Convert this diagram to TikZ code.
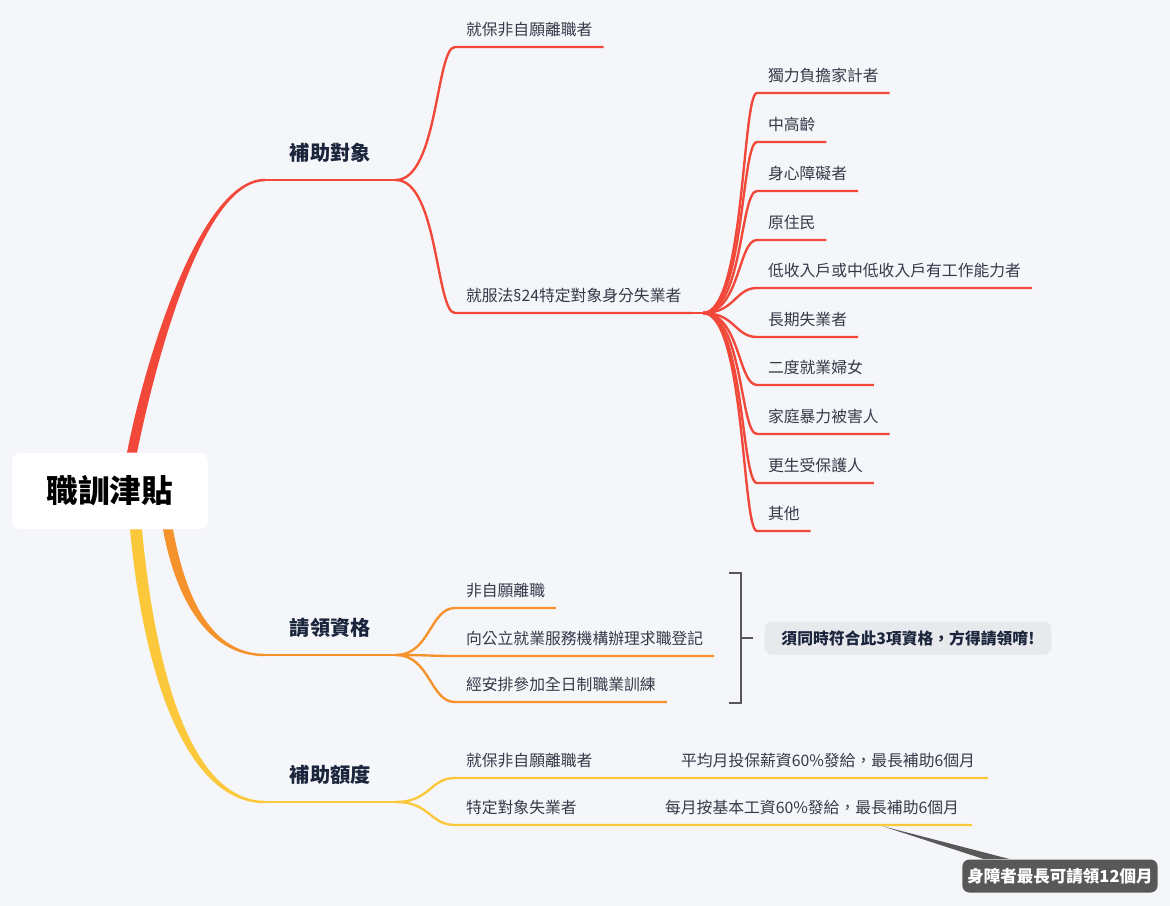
\documentclass[tikz,border=0pt]{standalone}
\usepackage{fontspec}
\setmainfont{Noto Sans CJK TC}
\newfontfamily\latinfont{Noto Sans}
\usepackage{xcolor}
\usepackage{tikz}

\definecolor{bgcol}{RGB}{245,246,250}
\definecolor{redb}{RGB}{242,72,58}
\definecolor{orangeb}{RGB}{246,146,44}
\definecolor{yellowb}{RGB}{251,200,60}
\definecolor{inkcol}{RGB}{52,58,72}
\definecolor{titlecol}{RGB}{27,37,60}
\definecolor{notecol}{RGB}{232,233,237}
\definecolor{notedark}{RGB}{88,88,88}

\begin{document}
\begin{tikzpicture}[x=0.02cm, y=-0.02cm,
  root/.style={fill=white, rounded corners=0.16cm, minimum width=3.92cm, minimum height=1.52cm, font=\fontsize{18}{20}\selectfont\bfseries},
  topic/.style={anchor=south west, outer sep=0pt, inner xsep=0.5cm, inner ysep=0.29cm, text height=0.35cm, text depth=0.1cm, text=titlecol, font=\fontsize{11.5}{13}\selectfont\bfseries},
  leaf/.style={anchor=south west, outer sep=0pt, inner xsep=0.22cm, inner ysep=0.14cm, text height=0.3cm, text depth=0.1cm, text=inkcol, font=\fontsize{9}{11}\selectfont},
  rleaf/.style={leaf, anchor=south east, inner xsep=0.26cm},
  redline/.style={draw=redb, line width=1.35pt},
  orangeline/.style={draw=orangeb, line width=1.35pt},
  yellowline/.style={draw=yellowb, line width=1.35pt},
  note/.style={fill=notecol, rounded corners=0.14cm, minimum width=5.74cm, minimum height=0.66cm, text=titlecol, font=\fontsize{9}{11}\selectfont\bfseries},
  darknote/.style={fill=notedark, rounded corners=0.14cm, inner xsep=0.1cm, minimum width=3.9cm, minimum height=0.66cm, text=white, font=\fontsize{9.4}{11}\selectfont\bfseries}]

\fill[bgcol] (0,0) rectangle (1170,906);

% root and main topics
\node[root] (root) at (110,491) {職訓津貼};
\node[topic] (target) at (265,180) {補助對象};
\node[topic] (qualify) at (265,655) {請領資格};
\node[topic] (amount) at (265,802) {補助額度};

\fill[redb] ([xshift=0.34cm]root.north) .. controls (145,360) and (200,179) .. ([yshift=0.7pt]target.south west)
  -- ([yshift=-0.7pt]target.south west) .. controls (203,181) and (156,360) .. ([xshift=0.54cm]root.north) -- cycle;
\fill[orangeb] ([xshift=1.06cm]root.south) .. controls (176,600) and (208,656) .. ([yshift=-0.7pt]qualify.south west)
  -- ([yshift=0.7pt]qualify.south west) .. controls (212,654) and (186,600) .. ([xshift=1.26cm]root.south) -- cycle;
\fill[yellowb] ([xshift=0.4cm]root.south) .. controls (144,680) and (188,803) .. ([yshift=-0.7pt]amount.south west)
  -- ([yshift=0.7pt]amount.south west) .. controls (194,801) and (156,680) .. ([xshift=0.64cm]root.south) -- cycle;

\draw[redline] (target.south west) -- (target.south east);
\draw[orangeline] (qualify.south west) -- (qualify.south east);
\draw[yellowline] (amount.south west) -- (amount.south east);

% 補助對象
\node[leaf] (layoff) at (455,47) {就保非自願離職者};
\node[leaf] (special) at (455,313) {就服法{\latinfont §}24特定對象身分失業者};
\draw[redline] (target.south east) .. controls (438,180) and (436,47) .. (layoff.south west) -- (layoff.south east);
\draw[redline] (target.south east) .. controls (438,180) and (436,313) .. (special.south west) -- (special.south east);

\coordinate (hub) at (703,313);
\node[leaf] (breadwin) at (757,93) {獨力負擔家計者};
\node[leaf] (senior) at (757,142) {中高齡};
\node[leaf] (disabled) at (757,191) {身心障礙者};
\node[leaf] (native) at (757,240) {原住民};
\node[leaf] (lowinc) at (757,288) {低收入戶或中低收入戶有工作能力者};
\node[leaf] (longterm) at (757,337) {長期失業者};
\node[leaf] (women) at (757,385) {二度就業婦女};
\node[leaf] (violence) at (757,434) {家庭暴力被害人};
\node[leaf] (parolee) at (757,483) {更生受保護人};
\node[leaf] (others) at (757,531) {其他};

\draw[redline] (special.south east) -- (hub);
\draw[redline] (hub) .. controls (745,313) and (742,93) .. (breadwin.south west) -- (breadwin.south east);
\draw[redline] (hub) .. controls (744,313) and (741,142) .. (senior.south west) -- (senior.south east);
\draw[redline] (hub) .. controls (743,313) and (740,191) .. (disabled.south west) -- (disabled.south east);
\draw[redline] (hub) .. controls (740,313) and (738,240) .. (native.south west) -- (native.south east);
\draw[redline] (hub) .. controls (735,313) and (735,288) .. (lowinc.south west) -- (lowinc.south east);
\draw[redline] (hub) .. controls (735,313) and (735,337) .. (longterm.south west) -- (longterm.south east);
\draw[redline] (hub) .. controls (740,313) and (738,385) .. (women.south west) -- (women.south east);
\draw[redline] (hub) .. controls (743,313) and (740,434) .. (violence.south west) -- (violence.south east);
\draw[redline] (hub) .. controls (744,313) and (741,483) .. (parolee.south west) -- (parolee.south east);
\draw[redline] (hub) .. controls (745,313) and (742,531) .. (others.south west) -- (others.south east);

% 請領資格
\node[leaf] (involun) at (455,608) {非自願離職};
\node[leaf] (register) at (455,656) {向公立就業服務機構辦理求職登記};
\node[leaf] (training) at (455,702) {經安排參加全日制職業訓練};
\draw[orangeline] (qualify.south east) .. controls (430,655) and (430,608) .. (involun.south west) -- (involun.south east);
\draw[orangeline] (qualify.south east) .. controls (430,655) and (430,656) .. (register.south west) -- (register.south east);
\draw[orangeline] (qualify.south east) .. controls (430,655) and (430,702) .. (training.south west) -- (training.south east);

\draw[notedark, line width=1.3pt] (729,573) -- (741,573) -- (741,703) -- (729,703);
\coordinate (brace) at (741,638);
\draw[notedark, line width=1.3pt] (brace) -- +(12,0);
\node[note] (allthree) at (908,638) {須同時符合此3項資格，方得請領唷!};

% 補助額度
\node[leaf] (keep) at (455,778) {就保非自願離職者};
\node[rleaf] (avgpay) at (988,778) {平均月投保薪資60\%發給，最長補助6個月};
\node[leaf] (group) at (455,825) {特定對象失業者};
\node[rleaf] (basepay) at (972,825) {每月按基本工資60\%發給，最長補助6個月};
\draw[yellowline] (amount.south east) .. controls (430,802) and (430,778) .. (keep.south west) -- (avgpay.south east);
\draw[yellowline] (amount.south east) .. controls (430,802) and (430,825) .. (group.south west) -- (basepay.south east);

\coordinate (tip) at (882,826);
\node[darknote] (twelve) at (1060,876) {身障者最長可請領12個月};
\fill[notedark] (tip) -- ([xshift=-1.52cm]twelve.north) -- ([xshift=-1cm]twelve.north) -- cycle;
\end{tikzpicture}
\end{document}
